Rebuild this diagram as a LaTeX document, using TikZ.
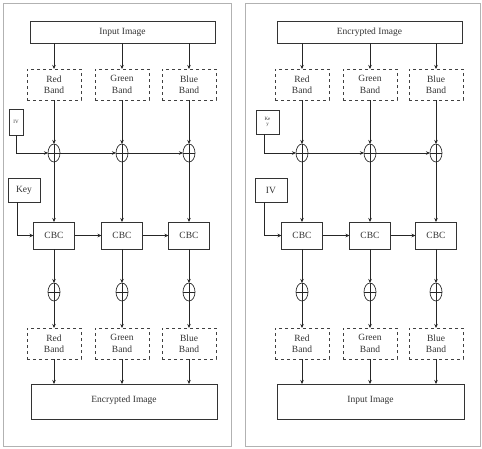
\documentclass[tikz,border=0pt]{standalone}
\usepackage{fontspec}
\setmainfont{Liberation Serif}
\usetikzlibrary{shapes.geometric,arrows.meta}
\begin{document}
\begin{tikzpicture}[x=1pt,y=-1pt,
  every node/.style={inner sep=0pt,outer sep=0pt,font=\fontsize{9.5}{11.5}\selectfont,text=black!80},
  bigbox/.style={draw=black!80,line width=0.8pt,rectangle,minimum width=186pt,minimum height=22pt},
  bandbox/.style={draw=black!75,dashed,line width=0.8pt,rectangle,minimum width=54pt,minimum height=31pt,align=center},
  cbcbox/.style={draw=black!80,line width=0.8pt,rectangle,minimum width=41pt,minimum height=27pt},
  smallbox/.style={draw=black!80,line width=0.8pt,rectangle},
  xorel/.style={draw=black!80,line width=0.7pt,ellipse,minimum width=12pt,minimum height=18pt},
  arr/.style={draw=black!85,line width=0.8pt,-{Stealth[length=4pt,width=3.5pt]}},
  ln/.style={draw=black!85,line width=0.7pt},
  panel/.style={draw=black!30,line width=1pt}]
\useasboundingbox (0,0) rectangle (482,448);
\draw[panel] (3,3) rectangle (231,446);
\draw[panel] (245,3) rectangle (480,446);

% ---------- left panel ----------
\node[bigbox,minimum width=185pt] (inA) at (122.5,32) {Input Image};
\node[bandbox] (rA) at (54,84.5) {Red\\Band};
\node[bandbox] (gA) at (122,84.5) {Green\\Band};
\node[bandbox] (bA) at (189,84.5) {Blue\\Band};
\node[smallbox,minimum width=14pt,minimum height=26pt,font=\fontsize{5}{6}\selectfont] (ivA) at (16,122) {IV};
\node[xorel] (xA1) at (54,153) {};
\node[xorel] (xA2) at (122,153) {};
\node[xorel] (xA3) at (189,153) {};
\node[smallbox,minimum width=32pt,minimum height=24pt] (keyA) at (24,190) {Key};
\node[cbcbox] (cA1) at (54,235.5) {CBC};
\node[cbcbox] (cA2) at (122,235.5) {CBC};
\node[cbcbox] (cA3) at (189,235.5) {CBC};
\node[xorel] (yA1) at (54,292) {};
\node[xorel] (yA2) at (122,292) {};
\node[xorel] (yA3) at (189,292) {};
\node[bandbox] (rA2) at (54,343.5) {Red\\Band};
\node[bandbox] (gA2) at (122,343.5) {Green\\Band};
\node[bandbox] (bA2) at (189,343.5) {Blue\\Band};
\node[bigbox,minimum height=35pt] (encA) at (124,401.5) {\raisebox{5pt}{Encrypted Image}};

\foreach \c/\b in {rA/54,gA/122,bA/189}{
  \draw[arr] (inA.south -| \c) -- (\c.north);
}
\draw[arr] (rA) -- (xA1.north);
\draw[arr] (gA) -- (xA2.north);
\draw[arr] (bA) -- (xA3.north);
\draw[arr] (ivA.south) |- (xA1.west);
\draw[arr] (xA1.east) -- (xA2.west);
\draw[arr] (xA2.east) -- (xA3.west);
\foreach \x in {xA1,xA2,xA3,yA1,yA2,yA3}{
  \draw[ln] (\x.north) -- (\x.south);
  \draw[ln] (\x.west) -- (\x.east);
}
\draw[arr] (xA1.south) -- (cA1.north);
\draw[arr] (xA2.south) -- (cA2.north);
\draw[arr] (xA3.south) -- (cA3.north);
\draw[arr] (keyA.south -| 17,0) |- (cA1.west);
\draw[arr] (cA1.east) -- (cA2.west);
\draw[arr] (cA2.east) -- (cA3.west);
\draw[arr] (cA1.south) -- (yA1.north);
\draw[arr] (cA2.south) -- (yA2.north);
\draw[arr] (cA3.south) -- (yA3.north);
\draw[arr] (yA1.south) -- (rA2.north);
\draw[arr] (yA2.south) -- (gA2.north);
\draw[arr] (yA3.south) -- (bA2.north);
\draw[arr] (rA2.south) -- (rA2.south |- encA.north);
\draw[arr] (gA2.south) -- (gA2.south |- encA.north);
\draw[arr] (bA2.south) -- (bA2.south |- encA.north);

% ---------- right panel ----------
\node[bigbox,minimum width=185pt] (inB) at (369.5,32) {Encrypted Image};
\node[bandbox] (rB) at (302,84.5) {Red\\Band};
\node[bandbox] (gB) at (370,84.5) {Green\\Band};
\node[bandbox] (bB) at (436,84.5) {Blue\\Band};
\node[smallbox,minimum width=23pt,minimum height=24pt,font=\fontsize{5}{5.5}\selectfont,align=center] (keyB) at (267.5,122) {Ke\\y};
\node[xorel] (xB1) at (302,153) {};
\node[xorel] (xB2) at (370,153) {};
\node[xorel] (xB3) at (436,153) {};
\node[smallbox,minimum width=32pt,minimum height=24pt] (ivB) at (271,190) {IV};
\node[cbcbox] (cB1) at (302,235.5) {CBC};
\node[cbcbox] (cB2) at (370,235.5) {CBC};
\node[cbcbox] (cB3) at (436,235.5) {CBC};
\node[xorel] (yB1) at (302,292) {};
\node[xorel] (yB2) at (370,292) {};
\node[xorel] (yB3) at (436,292) {};
\node[bandbox] (rB2) at (302,343.5) {Red\\Band};
\node[bandbox] (gB2) at (370,343.5) {Green\\Band};
\node[bandbox] (bB2) at (436,343.5) {Blue\\Band};
\node[bigbox,minimum width=187pt,minimum height=35pt] (inB2) at (370.5,401.5) {\raisebox{5pt}{Input Image}};

\foreach \c in {rB,gB,bB}{
  \draw[arr] (inB.south -| \c) -- (\c.north);
}
\draw[arr] (rB) -- (xB1.north);
\draw[arr] (gB) -- (xB2.north);
\draw[arr] (bB) -- (xB3.north);
\draw[arr] (keyB.south -| 264,0) |- (xB1.west);
\draw[arr] (xB1.east) -- (xB2.west);
\draw[arr] (xB2.east) -- (xB3.west);
\foreach \x in {xB1,xB2,xB3,yB1,yB2,yB3}{
  \draw[ln] (\x.north) -- (\x.south);
  \draw[ln] (\x.west) -- (\x.east);
}
\draw[arr] (xB1.south) -- (cB1.north);
\draw[arr] (xB2.south) -- (cB2.north);
\draw[arr] (xB3.south) -- (cB3.north);
\draw[arr] (ivB.south -| 264,0) |- (cB1.west);
\draw[arr] (cB1.east) -- (cB2.west);
\draw[arr] (cB2.east) -- (cB3.west);
\draw[arr] (cB1.south) -- (yB1.north);
\draw[arr] (cB2.south) -- (yB2.north);
\draw[arr] (cB3.south) -- (yB3.north);
\draw[arr] (yB1.south) -- (rB2.north);
\draw[arr] (yB2.south) -- (gB2.north);
\draw[arr] (yB3.south) -- (bB2.north);
\draw[arr] (rB2.south) -- (rB2.south |- inB2.north);
\draw[arr] (gB2.south) -- (gB2.south |- inB2.north);
\draw[arr] (bB2.south) -- (bB2.south |- inB2.north);
\end{tikzpicture}
\end{document}
